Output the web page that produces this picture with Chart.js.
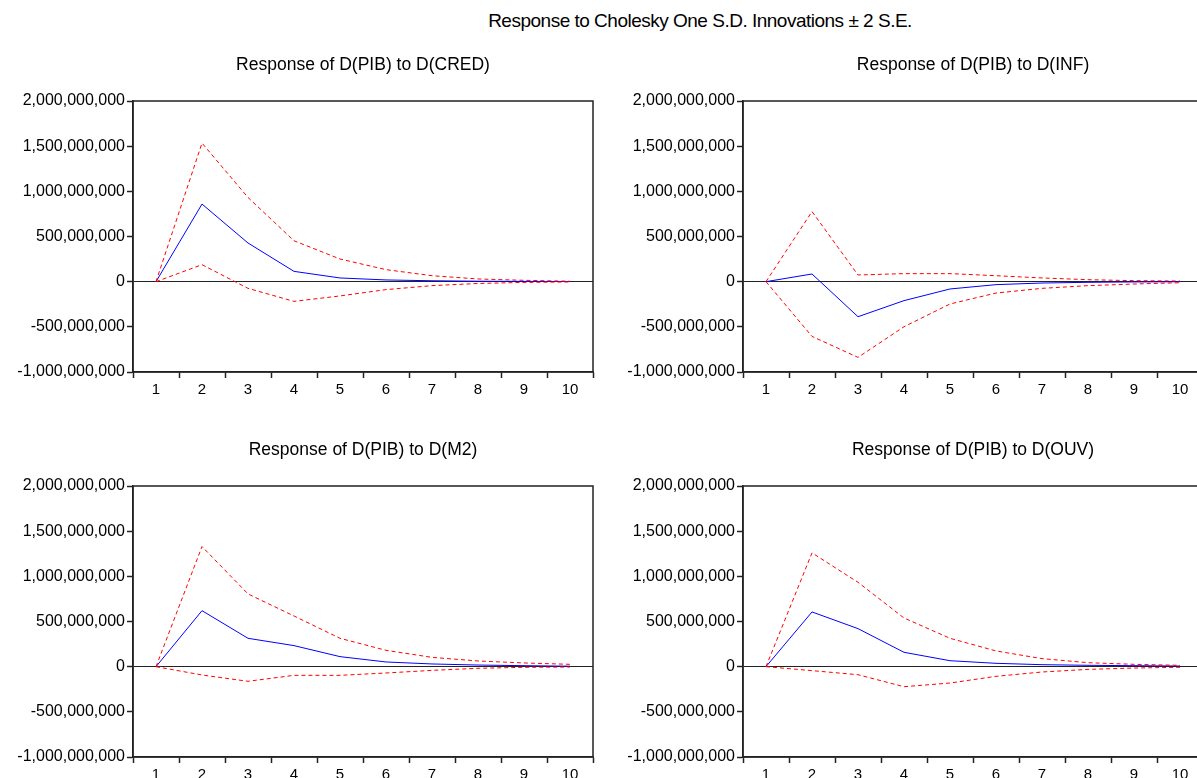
<!DOCTYPE html>
<html>
<head>
<meta charset="utf-8">
<script src="https://cdn.jsdelivr.net/npm/chart.js@4.4.0/dist/chart.umd.min.js"></script>
<style>
    html, body {
        margin: 0;
        padding: 0;
        background: #fff;
        overflow: hidden;
        width: 1197px;
        height: 778px;
        position: relative;
    }
    #mainTitle {
        position: absolute;
        left: 0;
        top: 10px;
        width: 1400px;
        text-align: center;
        font-family: "Liberation Sans", Arial, sans-serif;
        font-size: 19px;
        letter-spacing: -0.5px;
        color: #000;
    }
    .panel {
        position: absolute;
        width: 600px;
        height: 346px;
    }
</style>
</head>
<body>
<div id="mainTitle">Response to Cholesky One S.D. Innovations ± 2 S.E.</div>
<div class="panel" style="left:0px; top:50px;"><canvas id="chartCred"></canvas></div>
<div class="panel" style="left:610px; top:50px;"><canvas id="chartInf"></canvas></div>
<div class="panel" style="left:0px; top:435px;"><canvas id="chartM2"></canvas></div>
<div class="panel" style="left:610px; top:435px;"><canvas id="chartOuv"></canvas></div>

<script>
// Periods (x axis)
const periods = ['1', '2', '3', '4', '5', '6', '7', '8', '9', '10'];

// Y axis ticks
const yTicks = [-1000000000, -500000000, 0, 500000000, 1000000000, 1500000000, 2000000000];

// Response of D(PIB) to D(CRED)
const credResp = [0, 859e6, 428e6, 114e6, 41e6, 19e6, 10e6, 5e6, 3e6, 1e6];
const credUpper = [0, 1534e6, 932e6, 453e6, 251e6, 133e6, 66e6, 30e6, 15e6, 5e6];
const credLower = [0, 188e6, -74e6, -218e6, -158e6, -88e6, -44e6, -20e6, -8e6, -3e6];

// Response of D(PIB) to D(INF)
const infResp = [0, 85e6, -388e6, -210e6, -81e6, -33e6, -15e6, -7e6, -3e6, -1e6];
const infUpper = [0, 776e6, 74e6, 89e6, 89e6, 66e6, 41e6, 22e6, 11e6, 7e6];
const infLower = [0, -606e6, -838e6, -499e6, -247e6, -126e6, -74e6, -44e6, -26e6, -12e6];

// Response of D(PIB) to D(M2)
const m2Resp = [0, 620e6, 314e6, 233e6, 111e6, 52e6, 30e6, 18e6, 11e6, 5e6];
const m2Upper = [0, 1330e6, 805e6, 561e6, 314e6, 181e6, 103e6, 63e6, 41e6, 26e6];
const m2Lower = [0, -92e6, -162e6, -96e6, -96e6, -70e6, -41e6, -18e6, -7e6, -4e6];

// Response of D(PIB) to D(OUV)
const ouvResp = [0, 606e6, 421e6, 159e6, 66e6, 37e6, 22e6, 15e6, 11e6, 7e6];
const ouvUpper = [0, 1260e6, 934e6, 539e6, 314e6, 174e6, 89e6, 44e6, 26e6, 15e6];
const ouvLower = [0, -44e6, -89e6, -222e6, -181e6, -107e6, -59e6, -30e6, -15e6, -7e6];

const fontFamily = '"Liberation Sans", Arial, sans-serif';

// Draws the closed box around the plot area
const frameBox = {
    id: 'frameBox',
    afterDraw(chart) {
        const a = chart.chartArea;
        const ctx = chart.ctx;
        ctx.save();
        ctx.strokeStyle = '#222';
        ctx.lineWidth = 1.5;
        ctx.strokeRect(a.left, a.top, a.right - a.left, a.bottom - a.top);
        ctx.restore();
    }
};

function makeChart(canvasId, title, resp, upper, lower) {
    const data = {
        labels: periods,
        datasets: [
            {
                label: 'Upper',
                data: upper,
                borderColor: '#ff0000',
                borderWidth: 1,
                borderDash: [4, 3],
                pointRadius: 0,
                tension: 0
            },
            {
                label: 'Lower',
                data: lower,
                borderColor: '#ff0000',
                borderWidth: 1,
                borderDash: [4, 3],
                pointRadius: 0,
                tension: 0
            },
            {
                label: 'Response',
                data: resp,
                borderColor: '#0000ff',
                borderWidth: 1,
                pointRadius: 0,
                tension: 0
            }
        ]
    };

    const config = {
        type: 'line',
        data: data,
        options: {
            responsive: true,
            maintainAspectRatio: false,
            animation: false,
            layout: { padding: { left: 0, right: 7, top: 0, bottom: 0 } },
            scales: {
                x: {
                    offset: true,
                    grid: {
                        offset: true,
                        drawOnChartArea: false,
                        drawTicks: true,
                        tickLength: 6,
                        tickColor: '#222',
                        tickWidth: 1.5
                    },
                    border: { color: '#222', width: 1.5 },
                    ticks: {
                        color: '#000',
                        padding: 3,
                        maxRotation: 0,
                        autoSkip: false,
                        font: { family: fontFamily, size: 15 }
                    },
                    afterFit: function (scale) { scale.height = 24; }
                },
                y: {
                    min: -1000000000,
                    max: 2000000000,
                    afterBuildTicks: function (scale) {
                        scale.ticks = yTicks.map(v => ({ value: v }));
                    },
                    grid: {
                        drawTicks: true,
                        tickLength: 6,
                        tickColor: '#222',
                        tickWidth: 1.5,
                        // only the zero line inside the plot
                        color: function (ctx) {
                            return ctx.tick && ctx.tick.value === 0 ? '#222' : 'rgba(0,0,0,0)';
                        },
                        lineWidth: 1
                    },
                    border: { color: '#222', width: 1.5 },
                    ticks: {
                        color: '#000',
                        padding: 2,
                        font: { family: fontFamily, size: 16 },
                        callback: function (value) {
                            return Number(value).toLocaleString('en-US');
                        }
                    },
                    afterFit: function (scale) { scale.width = 133; }
                }
            },
            plugins: {
                legend: { display: false },
                tooltip: { enabled: false },
                title: {
                    display: true,
                    fullSize: false,
                    text: title,
                    color: '#000',
                    font: { family: fontFamily, size: 17.5, weight: 'normal' },
                    padding: { top: 5, bottom: 25 }
                }
            }
        },
        plugins: [frameBox]
    };

    const ctx = document.getElementById(canvasId).getContext('2d');
    return new Chart(ctx, config);
}

makeChart('chartCred', 'Response of D(PIB) to D(CRED)', credResp, credUpper, credLower);
makeChart('chartInf', 'Response of D(PIB) to D(INF)', infResp, infUpper, infLower);
makeChart('chartM2', 'Response of D(PIB) to D(M2)', m2Resp, m2Upper, m2Lower);
makeChart('chartOuv', 'Response of D(PIB) to D(OUV)', ouvResp, ouvUpper, ouvLower);
</script>
</body>
</html>
